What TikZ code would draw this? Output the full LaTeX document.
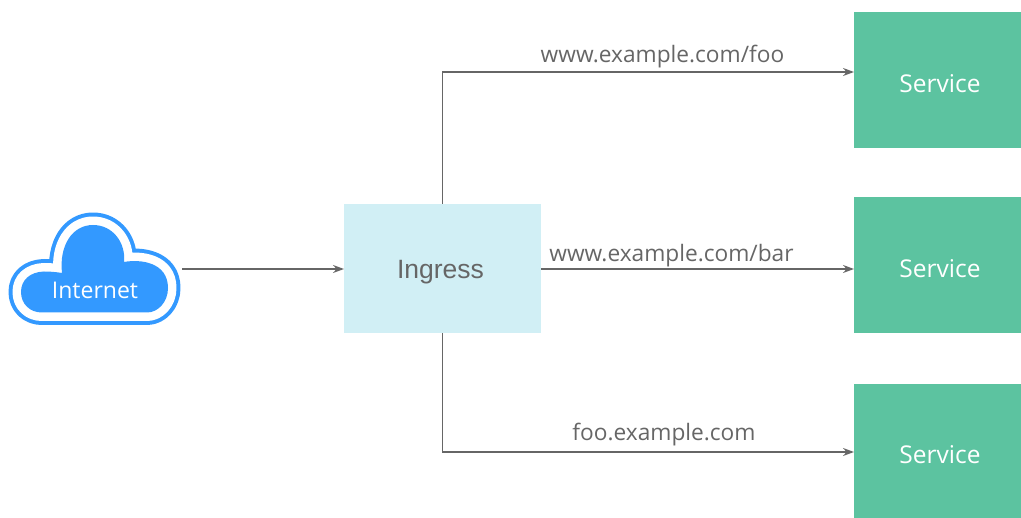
\documentclass[tikz,border=0pt]{standalone}
\usepackage{fontspec}
\setmainfont{Open Sans}
\newfontfamily\ingressfont{Liberation Sans}
\usetikzlibrary{arrows.meta}
\definecolor{cloudblue}{HTML}{3399FF}
\definecolor{ingressbg}{HTML}{D1EFF5}
\definecolor{servicebg}{HTML}{5CC3A0}
\definecolor{linegray}{HTML}{666666}
\newcommand{\cloudshape}{(42,312.5) .. controls (30,312.5) and (21,304) .. (21,292) .. controls (21,280) and (30,272) .. (44,271.5) .. controls (50,271.5) and (56,272) .. (62,273) .. controls (59,246) and (72,225) .. (93,225) .. controls (113,225) and (126,243) .. (124,262) .. controls (140,259) and (168,262) .. (168,288) .. controls (168,302) and (158,312.5) .. (147,312.5) -- cycle}
\tikzset{
  pane/.style={draw=none,inner sep=0pt,anchor=north west},
  servicebox/.style={pane,fill=servicebg,minimum width=167pt,minimum height=136pt},
  ingressbox/.style={pane,fill=ingressbg,minimum width=197pt,minimum height=129pt},
  servicetext/.style={text=white,inner sep=0pt,font=\fontsize{24.5}{28}\selectfont},
  route/.style={draw=linegray,line width=1.3pt,-{Stealth[length=11pt,width=8pt]}},
  routelabel/.style={text=linegray,inner sep=0pt,font=\fontsize{22.7}{27}\selectfont},
}
\begin{document}
\begin{tikzpicture}[x=1pt,y=-1pt]
\useasboundingbox (0,0) rectangle (1021,518);
% cloud
\draw[cloudblue,line width=25pt,line join=round] \cloudshape;
\draw[white,line width=17pt,line join=round] \cloudshape;
\fill[cloudblue] \cloudshape;
\node[text=white,inner sep=0pt,font=\fontsize{23}{27}\selectfont] (internet) at (95,290) {Internet};
\coordinate (cloudout) at (182,269);
% boxes
\node[ingressbox] (ingress) at (344,204) {};
\node[text=linegray,inner sep=0pt,font=\ingressfont\fontsize{26.5}{31}\selectfont] (ingresstext) at (440.5,272) {Ingress};
\node[servicebox] (s1) at (854,12) {};
\node[servicebox] (s2) at (854,197) {};
\node[servicebox,minimum height=134pt] (s3) at (854,384) {};
\node[servicetext] (t1) at (940,84) {Service};
\node[servicetext] (t2) at (940,269) {Service};
\node[servicetext] (t3) at (940,455) {Service};
% connectors
\draw[route] (cloudout) -- (ingress.west |- cloudout);
\draw[route] (ingress.north) -- (ingress.north |- 0,72) -- (s1.west |- 0,72);
\draw[route] (ingress.east |- 0,269) -- (s2.west |- 0,269);
\draw[route] (ingress.south) -- (ingress.south |- 0,452) -- (s3.west |- 0,452);
% labels
\node[routelabel] (l1) at (662.5,57) {www.example.com/foo};
\node[routelabel] (l2) at (671.5,256) {www.example.com/bar};
\node[routelabel] (l3) at (664,435) {foo.example.com};
\end{tikzpicture}
\end{document}
